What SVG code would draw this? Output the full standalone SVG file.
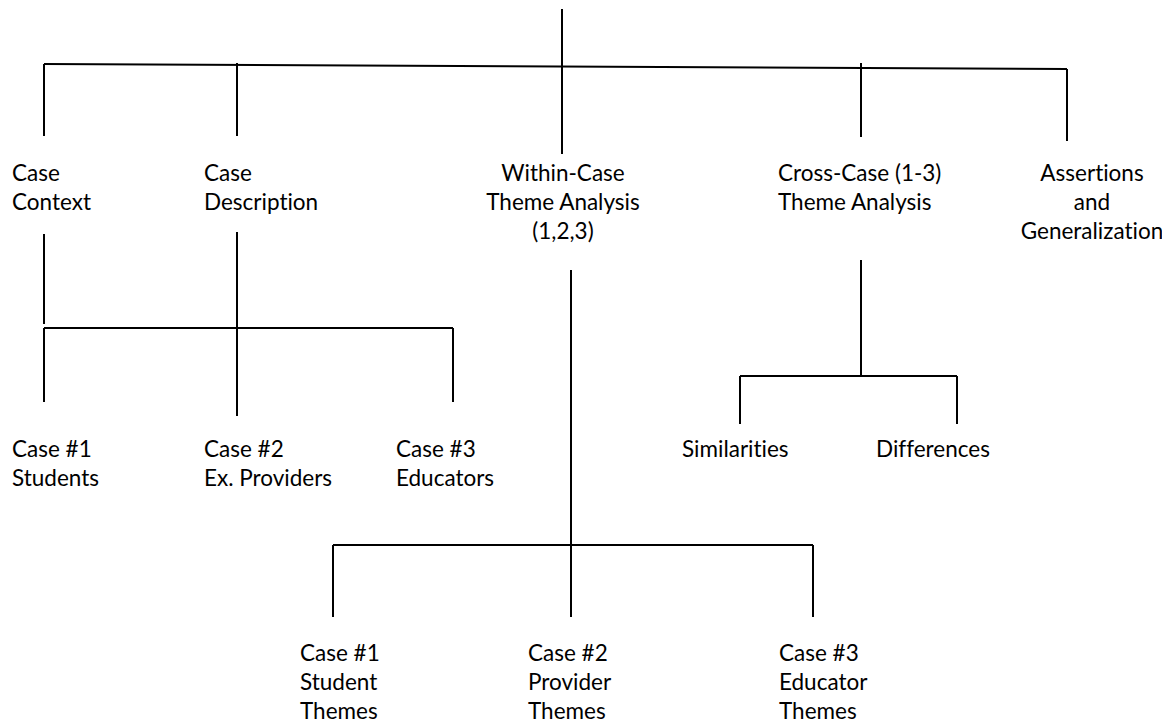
<svg xmlns="http://www.w3.org/2000/svg" width="1162" height="723" viewBox="0 0 1162 723">
<style>
  .c line, .c path { stroke: #000; stroke-width: 2; fill: none; }
  text { font-family: Lato, "Liberation Sans", sans-serif; font-size: 22.5px; fill: #000; font-variant-ligatures: none; }
  .m { text-anchor: middle; }
</style>
<rect width="1162" height="723" fill="#fff"/>
<g id="connectors" class="c">
  <line x1="562" y1="9" x2="562" y2="154"/>
  <line x1="44" y1="64" x2="1067" y2="69"/>
  <line x1="44" y1="64" x2="44" y2="136"/>
  <line x1="237" y1="63" x2="237" y2="136"/>
  <line x1="861" y1="63" x2="861" y2="137"/>
  <line x1="1067" y1="69" x2="1067" y2="141"/>
  <line x1="44" y1="234" x2="44" y2="324"/>
  <line x1="237" y1="232" x2="237" y2="416"/>
  <line x1="44" y1="328" x2="453" y2="328"/>
  <line x1="44" y1="328" x2="44" y2="402"/>
  <line x1="453" y1="328" x2="453" y2="402"/>
  <line x1="571" y1="270" x2="571" y2="617"/>
  <line x1="333" y1="545" x2="813" y2="545"/>
  <line x1="333" y1="545" x2="333" y2="617"/>
  <line x1="813" y1="545" x2="813" y2="617"/>
  <line x1="861" y1="260" x2="861" y2="376"/>
  <line x1="740" y1="376" x2="957" y2="376"/>
  <line x1="740" y1="376" x2="740" y2="424"/>
  <line x1="957" y1="376" x2="957" y2="424"/>
</g>
<g id="case-context"><text x="12" y="181">Case</text><text x="12" y="210">Context</text></g>
<g id="case-description"><text x="204" y="181">Case</text><text x="204" y="210">Description</text></g>
<g id="within-case"><text class="m" x="563" y="181">Within-Case</text><text class="m" x="563" y="210">Theme Analysis</text><text class="m" x="563" y="239">(1,2,3)</text></g>
<g id="cross-case"><text x="778" y="181">Cross-Case (1-3)</text><text x="778" y="210">Theme Analysis</text></g>
<g id="assertions"><text class="m" x="1092" y="181">Assertions</text><text class="m" x="1092" y="210">and</text><text class="m" x="1092" y="239">Generalization</text></g>
<g id="case1"><text x="12" y="457">Case #1</text><text x="12" y="486">Students</text></g>
<g id="case2"><text x="204" y="457">Case #2</text><text x="204" y="486">Ex. Providers</text></g>
<g id="case3"><text x="396" y="457">Case #3</text><text x="396" y="486">Educators</text></g>
<g id="similarities"><text x="682" y="457">Similarities</text></g>
<g id="differences"><text x="876" y="457">Differences</text></g>
<g id="theme1"><text x="300" y="661">Case #1</text><text x="300" y="690">Student</text><text x="300" y="719">Themes</text></g>
<g id="theme2"><text x="528" y="661">Case #2</text><text x="528" y="690">Provider</text><text x="528" y="719">Themes</text></g>
<g id="theme3"><text x="779" y="661">Case #3</text><text x="779" y="690">Educator</text><text x="779" y="719">Themes</text></g>
</svg>
